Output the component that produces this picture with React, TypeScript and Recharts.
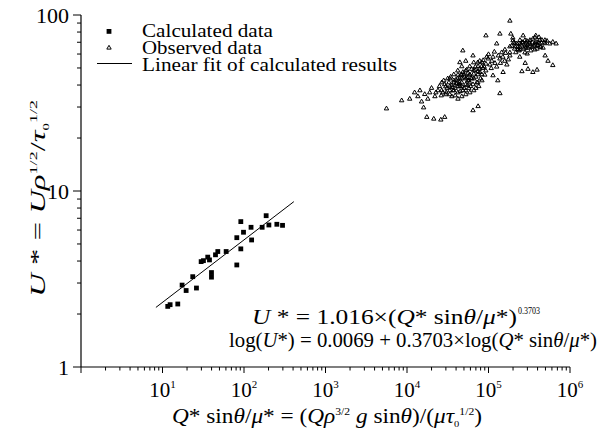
import React from "react";
import { ScatterChart, Scatter, XAxis, YAxis, Customized } from "recharts";

// calculated points
const calcX = [11.6, 12.4, 15.4, 17.4, 19.5, 23.5, 26.1, 29.8, 31.8, 35.9, 37.7, 39.9, 39.9, 44.7, 47.7, 60.4, 81.6, 81.6, 91.4, 91.4, 98.6, 122, 124, 167, 187, 202, 253, 297];
const calcY = [2.21, 2.26, 2.28, 2.92, 2.72, 3.26, 2.81, 3.97, 4.02, 4.21, 4.06, 3.44, 3.24, 4.34, 4.53, 4.53, 3.8, 5.43, 6.7, 4.69, 5.83, 6.22, 5.27, 6.22, 7.24, 6.41, 6.47, 6.38];

// ends of the linear fit
const fitX = [8.3, 409];
const fitY = [2.18, 8.7];

// observed cloud [x, y]
const observed: [number, number][] = [
  [5600, 29.5], [8600, 32.8], [10800, 33.5], [12400, 36.4], [13600, 34.6], [14400, 37.4], [15100, 32.3], [16500, 35.6],
  [18000, 33.5], [19000, 36.4], [20000, 38.6], [16000, 29.9], [22000, 34.6], [17500, 26.4], [21300, 25.8], [26000, 25.5], [29000, 26.4],
  [24000, 37.4], [25000, 39.5], [27500, 36.4], [29000, 40.5], [31000, 38.6], [32700, 41.5], [33500, 37.4], [35500, 40],
  [37600, 42.6], [39000, 38.6], [41000, 41], [42200, 36.4], [44500, 43.7], [44500, 39.5], [47000, 41.5], [48400, 37.4],
  [51000, 44.7], [52600, 40.5], [55600, 42.6], [57400, 38.6], [59000, 45.9], [62400, 43.7], [64500, 40.5], [67900, 49],
  [70000, 44.7], [72000, 41.5], [74500, 51.2], [78000, 47.5], [80000, 43.7], [83000, 54], [85500, 50], [90000, 45.9],
  [93000, 53], [54000, 49], [48400, 47.5], [42200, 45.9], [39000, 35], [47000, 34.6], [59000, 36.4], [31600, 43.7],
  [28200, 42.6], [66000, 37.4], [76000, 39.5], [52600, 55], [44500, 54], [48400, 63], [64500, 59], [78000, 55],
  [99000, 56.7], [104000, 52.4], [113500, 58], [120000, 53.5], [126000, 51], [138000, 56.7], [145000, 61.5], [158000, 55],
  [168000, 52.4], [183000, 59], [126000, 69], [138000, 36], [113500, 45.5], [130000, 42.6], [151000, 47.5], [64500, 28.8], [74500, 30.4],
  [193000, 67], [209000, 64.5], [222000, 69], [237000, 63], [242000, 66], [257000, 70.5], [272000, 64.5], [282000, 68],
  [295000, 71.5], [305000, 65.3], [320000, 69], [330000, 63], [350000, 73.5], [362000, 67], [380000, 70.5], [394000, 64.5],
  [417000, 75], [425000, 69], [452000, 72.3], [480000, 70], [522000, 71.5], [565000, 69], [615000, 70.5], [675000, 69],
  [615000, 52], [199000, 74.5], [266000, 76.7], [188000, 78.5], [138000, 78.5], [93000, 76.7], [380000, 76.7], [183000, 93],
  [242000, 58], [282000, 53.5], [305000, 49.5], [350000, 47.5], [394000, 49], [257000, 48], [495000, 59], [537000, 55],
  [34300, 44.7], [36700, 37.4], [40000, 43.1], [43600, 40.5], [45700, 45.9], [50000, 38.6], [54300, 44.2], [60300, 39.5],
  [66000, 46.5], [70000, 38.6], [74500, 48], [83000, 42.6], [88000, 51.2], [30200, 36.4], [26300, 35], [22600, 36.4],
  [35500, 34.6], [42200, 33.5], [52600, 35.5], [57400, 42.6],
  [204000, 70], [229000, 66], [251000, 68], [288000, 65.3], [316000, 70.5], [343000, 66], [372000, 68], [407000, 70.5],
  [437000, 66], [216000, 61.5], [298000, 60.5], [467000, 65.3],
  [26700, 41.5], [26700, 37.4], [29900, 39.4], [29900, 35.5], [33500, 43.7], [33500, 39.4], [33500, 35.5], [37500, 41.5],
  [37500, 37.4], [37500, 46.1], [42000, 43.7], [42000, 39.4], [42000, 48.5], [47000, 46.1], [47000, 43.7], [47000, 39.4],
  [47000, 51.2], [52600, 48.5], [52600, 43.7], [52600, 37.4], [58900, 51.2], [58900, 46.1], [58900, 41.5], [65900, 53.9],
  [65900, 48.5], [65900, 43.7], [73800, 53.9], [73800, 46.1], [73800, 41.5], [82700, 51.2], [82700, 46.1], [92700, 48.5],
  [40000, 41], [44000, 41.5], [50000, 46], [56000, 47], [62000, 49.5], [69000, 51], [36000, 39], [45000, 37],
  [55000, 40], [61000, 44], [77000, 49.5], [86000, 55.5],
  [159000, 63.8], [183000, 66.4], [183000, 61.4], [211000, 69.2], [211000, 66.4], [243000, 72.2], [243000, 69.2], [243000, 63.8],
  [280000, 72.2], [280000, 66.4], [280000, 61.4], [322000, 72.2], [322000, 66.4], [371000, 74.8], [371000, 69.2], [371000, 63.8],
  [427000, 72.2], [427000, 66.4], [492000, 69.2], [492000, 72.2], [200000, 72], [265000, 70], [300000, 68], [345000, 70],
  [400000, 67.5], [230000, 64],
  [100000, 60], [110000, 55], [118000, 62], [132000, 59], [140000, 53.5], [150000, 58], [162000, 61], [175000, 56],
  [108000, 50], [95000, 58],
];

const xMajor = [1, 10, 100, 1000, 10000, 100000, 1000000];
const yMajor = [1, 10, 100];
const minorSteps = [2, 3, 4, 5, 6, 7, 8, 9];

const withMinors = (majors: number[]) => {
  const out: number[] = [];
  majors.forEach((m, i) => {
    out.push(m);
    if (i < majors.length - 1) minorSteps.forEach((s) => out.push(m * s));
  });
  return out;
};

const xTicks = withMinors(xMajor);
const yTicks = withMinors(yMajor);

const calcData = calcX.map((x, i) => ({ x, y: calcY[i] }));
const fitData = fitX.map((x, i) => ({ x, y: fitY[i] }));
const obsData = observed.map(([x, y]) => ({ x, y }));

const FONT = "'Liberation Serif', 'Times New Roman', serif";

const isMajor = (v: number) => Math.abs(Math.log10(v) - Math.round(Math.log10(v))) < 1e-6;

const XTick = (props: any) => {
  const { x, y, payload } = props;
  const v = payload.value;
  const major = isMajor(v);
  const e = Math.round(Math.log10(v));
  return (
    <g>
      <line x1={x} x2={x} y1={y} y2={y + (major ? 6 : 3.5)} stroke="#000" strokeWidth={1} />
      {major && e > 0 && (
        <text x={x} y={y + 30} textAnchor="middle" fontFamily={FONT} fontSize={21} fill="#000">
          10
          <tspan dy={-9} fontSize={11}>{e}</tspan>
        </text>
      )}
    </g>
  );
};

const YTick = (props: any) => {
  const { x, y, payload } = props;
  const v = payload.value;
  const major = isMajor(v);
  return (
    <g>
      <line x1={x} x2={x - (major ? 8 : 4)} y1={y} y2={y} stroke="#000" strokeWidth={1} />
      {major && (
        <text x={x - 12} y={y + 8} textAnchor="end" fontFamily={FONT} fontSize={22} fill="#000">
          {v}
        </text>
      )}
    </g>
  );
};

const Square = (props: any) => {
  const { cx, cy } = props;
  return <rect x={cx - 2.4} y={cy - 2.4} width={4.8} height={4.8} fill="#000" />;
};

const Tri = (props: any) => {
  const { cx, cy } = props;
  return (
    <path
      d={`M${cx},${cy - 2.2}L${cx + 2.2},${cy + 1.6}L${cx - 2.2},${cy + 1.6}Z`}
      fill="none"
      stroke="#000"
      strokeWidth={1}
    />
  );
};

const Overlay = () => (
  <g fontFamily={FONT} fill="#000">
    {/* legend */}
    <rect x={106.6} y={29} width={4.8} height={4.8} fill="#000" />
    <path d="M109,45.3L111.2,49.1L106.8,49.1Z" fill="none" stroke="#000" strokeWidth={1} />
    <line x1={97} x2={132} y1={63.5} y2={63.5} stroke="#000" strokeWidth={1} />
    <text x={142} y={37} fontSize={18} textLength={131} lengthAdjust="spacingAndGlyphs">Calculated data</text>
    <text x={142} y={54} fontSize={18} textLength={120} lengthAdjust="spacingAndGlyphs">Observed data</text>
    <text x={142} y={71} fontSize={18} textLength={255} lengthAdjust="spacingAndGlyphs">Linear fit of calculated results</text>

    {/* fit equations */}
    <text x={252} y={324} fontSize={22} textLength={265} lengthAdjust="spacingAndGlyphs">
      <tspan fontStyle="italic">U</tspan> * = 1.016×(<tspan fontStyle="italic">Q</tspan>* sin
      <tspan fontStyle="italic">θ</tspan>/<tspan fontStyle="italic">μ</tspan>*)
    </text>
    <text x={518} y={314} fontSize={10} textLength={22} lengthAdjust="spacingAndGlyphs">0.3703</text>
    <text x={229} y={347} fontSize={20} textLength={368} lengthAdjust="spacingAndGlyphs">
      log(<tspan fontStyle="italic">U</tspan>*) = 0.0069 + 0.3703×log(<tspan fontStyle="italic">Q</tspan>* sin
      <tspan fontStyle="italic">θ</tspan>/<tspan fontStyle="italic">μ</tspan>*)
    </text>

    {/* x axis title */}
    <text x={172} y={423} fontSize={20} textLength={310} lengthAdjust="spacingAndGlyphs">
      <tspan fontStyle="italic">Q</tspan>* sin<tspan fontStyle="italic">θ</tspan>/<tspan fontStyle="italic">μ</tspan>* = (
      <tspan fontStyle="italic">Qρ</tspan>
      <tspan dy={-8} fontSize={10}>3/2</tspan>
      <tspan dy={8}> </tspan>
      <tspan fontStyle="italic">g</tspan> sin<tspan fontStyle="italic">θ</tspan>)/(
      <tspan fontStyle="italic">μτ</tspan>
      <tspan dy={4} fontSize={9}>0</tspan>
      <tspan dy={-12} fontSize={10}>1/2</tspan>
      <tspan dy={8}>)</tspan>
    </text>

    {/* y axis title */}
    <text x={45} y={297} fontSize={20} textLength={197} lengthAdjust="spacingAndGlyphs" transform="rotate(-90 45 297)">
      <tspan fontStyle="italic">U</tspan> * = <tspan fontStyle="italic">Uρ</tspan>
      <tspan dy={-8} fontSize={11}>1/2</tspan>
      <tspan dy={8}>/</tspan>
      <tspan fontStyle="italic">τ</tspan>
      <tspan dy={4} fontSize={9}>0</tspan>
      <tspan dy={-12} fontSize={11}>1/2</tspan>
    </text>
  </g>
);

export default function App() {
  return (
    <div style={{ position: "absolute", left: 0, top: 0, width: 603, height: 436, background: "#fff" }}>
      <ScatterChart width={603} height={436} margin={{ top: 15, right: 33, bottom: 0, left: 8 }}>
        <XAxis
          type="number"
          dataKey="x"
          scale="log"
          domain={[1, 1000000]}
          ticks={xTicks}
          interval={0}
          tick={<XTick />}
          tickLine={false}
          tickSize={0}
          tickMargin={0}
          axisLine={{ stroke: "#000", strokeWidth: 1.2 }}
          height={69}
          allowDataOverflow
        />
        <YAxis
          type="number"
          dataKey="y"
          scale="log"
          domain={[1, 100]}
          ticks={yTicks}
          interval={0}
          tick={<YTick />}
          tickLine={false}
          tickSize={0}
          tickMargin={0}
          axisLine={{ stroke: "#000", strokeWidth: 1.2 }}
          width={73}
          allowDataOverflow
        />
        <Scatter data={obsData} shape={<Tri />} isAnimationActive={false} />
        <Scatter data={calcData} shape={<Square />} isAnimationActive={false} />
        <Scatter
          data={fitData}
          line={{ stroke: "#000", strokeWidth: 1 }}
          shape={() => <g />}
          isAnimationActive={false}
        />
        <Customized component={Overlay} />
      </ScatterChart>
    </div>
  );
}
